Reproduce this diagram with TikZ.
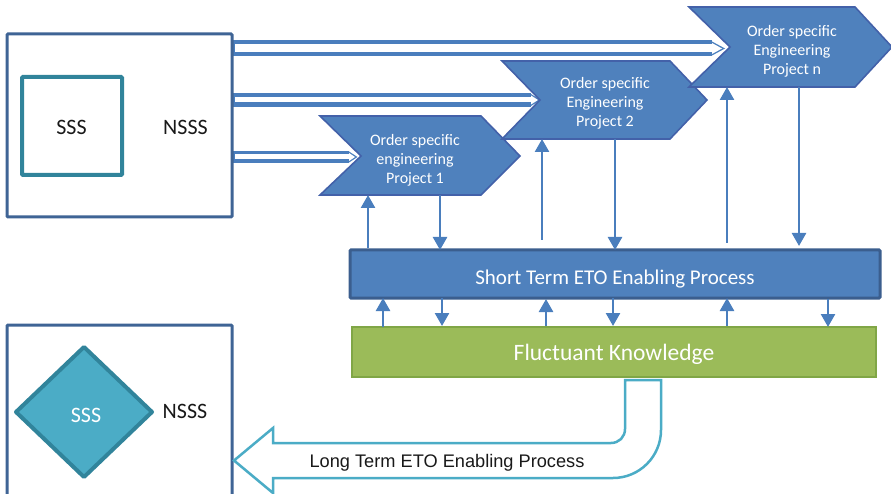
\documentclass[tikz,border=0pt]{standalone}
\usepackage{fontspec}
\setmainfont{Carlito}
\newfontfamily\arialfont{Liberation Sans}
\usetikzlibrary{arrows.meta}
\definecolor{boxborder}{HTML}{3F6495}
\definecolor{sqteal}{HTML}{31849B}
\definecolor{chevfill}{HTML}{4F81BD}
\definecolor{chevline}{HTML}{4361A9}
\definecolor{stline}{HTML}{3B5E8E}
\definecolor{fkfill}{HTML}{9BBB59}
\definecolor{fkline}{HTML}{80A646}
\definecolor{diafill}{HTML}{4BACC6}
\definecolor{longline}{HTML}{4BACC6}
\definecolor{arrblue}{HTML}{4A7EBD}
\tikzset{
  outerbox/.style={draw=boxborder, line width=3pt, rounded corners=1pt},
  chevron/.style={fill=chevfill, draw=chevline, line width=1.6pt, line join=miter},
  chevtext/.style={text=white, align=center, inner sep=0pt, font=\fontsize{16}{19}\selectfont},
  vup/.style={draw=arrblue, line width=2.5pt, -{Triangle[width=14pt,length=13pt]}},
  band/.style={draw=arrblue},
  bandin/.style={draw=white},
  plaintext/.style={inner sep=0pt, text=black!90, font=\fontsize{22}{26}\selectfont}
}
\begin{document}
\begin{tikzpicture}[x=1pt,y=-1pt]
\useasboundingbox (0,0) rectangle (891,494);

% ---------- double (hollow) arrows from top box ----------
\coordinate (a1s) at (232,48.5);  \coordinate (a1e) at (712,48.5); \coordinate (a1t) at (722,48.5);
\coordinate (a2s) at (232,100);   \coordinate (a2e) at (531,100);  \coordinate (a2t) at (538,100);
\coordinate (a3s) at (232,157);   \coordinate (a3e) at (349,157);  \coordinate (a3t) at (355,157);
\draw[band, line width=16pt] (a1s) -- (a1e);
\fill[arrblue] ([yshift=-7pt]a1e) -- ([xshift=3pt]a1t) -- ([yshift=7pt]a1e) -- cycle;
\draw[bandin, line width=8pt] ([xshift=3pt]a1s) -- (a1e);
\fill[white] ([yshift=-5.5pt]a1e) -- (a1t) -- ([yshift=5.5pt]a1e) -- cycle;
\draw[band, line width=14pt] (a2s) -- (a2e);
\fill[arrblue] ([yshift=-6pt]a2e) -- ([xshift=2.5pt]a2t) -- ([yshift=6pt]a2e) -- cycle;
\draw[bandin, line width=5pt] ([xshift=3pt]a2s) -- (a2e);
\fill[white] ([yshift=-4.5pt]a2e) -- (a2t) -- ([yshift=4.5pt]a2e) -- cycle;
\draw[band, line width=12pt] (a3s) -- (a3e);
\fill[arrblue] ([yshift=-5.5pt]a3e) -- ([xshift=2.5pt]a3t) -- ([yshift=5.5pt]a3e) -- cycle;
\draw[bandin, line width=5pt] ([xshift=3pt]a3s) -- (a3e);
\fill[white] ([yshift=-4pt]a3e) -- (a3t) -- ([yshift=4pt]a3e) -- cycle;

% ---------- top-left box ----------
\draw[outerbox] (7,34) rectangle (232,217);
\draw[draw=sqteal, line width=4pt, rounded corners=1pt] (22,77) rectangle (122,175);
\node[plaintext] (sss1) at (71.5,127) {SSS};
\node[plaintext] (nsss1) at (185.5,127) {NSSS};

% ---------- chevrons ----------
\draw[chevron] (320,116) -- (481,116) -- (520,156) -- (481,195) -- (320,195) -- (361,156) -- cycle;
\node[chevtext] (c1) at (415,160) {Order specific\\engineering\\Project 1};
\draw[chevron] (502,61) -- (670,61) -- (707,100) -- (670,139) -- (502,139) -- (540,100) -- cycle;
\node[chevtext] (c2) at (605,103.5) {Order specific\\Engineering\\Project 2};
\draw[chevron] (689,7) -- (855,7) -- (892,47) -- (855,87) -- (689,87) -- (730,47) -- cycle;
\node[chevtext] (cn) at (792,51) {Order specific\\Engineering\\Project n};

% ---------- bars ----------
\node[fill=chevfill, draw=stline, line width=3pt, rounded corners=1pt,
      minimum width=530pt, minimum height=48pt, inner sep=0pt] (st) at (615,274) {};
\node[anchor=base, inner sep=0pt, text=white, font=\fontsize{21}{25}\selectfont] (sttext) at (615,284) {Short Term ETO Enabling Process};
\node[fill=fkfill, draw=fkline, line width=2pt,
      minimum width=524pt, minimum height=50pt, inner sep=0pt] (fk) at (614,352) {};
\node[anchor=base, inner sep=0pt, text=white, font=\fontsize{23.5}{27}\selectfont] (fktext) at (614,360.5) {Fluctuant Knowledge};

% ---------- vertical arrows: chevrons <-> short term ----------
\draw[vup] (368,248) -- (368,195);
\draw[vup] (440,195) -- (440,250);
\draw[vup] (542,240) -- (542,139);
\draw[vup] (615,139) -- (615,250);
\draw[vup] (727,243) -- (727,87);
\draw[vup] (799,87) -- (799,246);

% ---------- vertical arrows: short term <-> fluctuant ----------
\draw[vup] (383,327) -- (383,298);
\draw[vup] (442,298) -- (442,326);
\draw[vup] (546,326) -- (546,299);
\draw[vup] (613,298) -- (613,326);
\draw[vup] (727,326) -- (727,298);
\draw[vup] (828,299) -- (828,327);

% ---------- bottom-left box ----------
\draw[outerbox] (7,325) rectangle (232,500);
\draw[fill=diafill, draw=sqteal, line width=4pt, line join=round]
  (84,347) -- (152,412) -- (84,477) -- (16,412) -- cycle;
\node[plaintext, text=white] (sss2) at (86,415) {SSS};
\node[plaintext] (nsss2) at (185,411) {NSSS};

% ---------- long term arrow ----------
\draw[draw=longline, fill=white, line width=2.5pt, line join=miter]
  (625,380) -- (625,429) .. controls (625,437) and (619,443) .. (611,443)
  -- (273,443) -- (273,428) -- (234,460.5) -- (273,493) -- (273,478)
  -- (613,478) .. controls (639.5,478) and (661,456.5) .. (661,430)
  -- (661,380) -- cycle;
\node[anchor=base, inner sep=0pt, text=black!90, font=\arialfont\fontsize{18.2}{22}\selectfont] (lt) at (447,467.5) {Long Term ETO Enabling Process};
\end{tikzpicture}
\end{document}
